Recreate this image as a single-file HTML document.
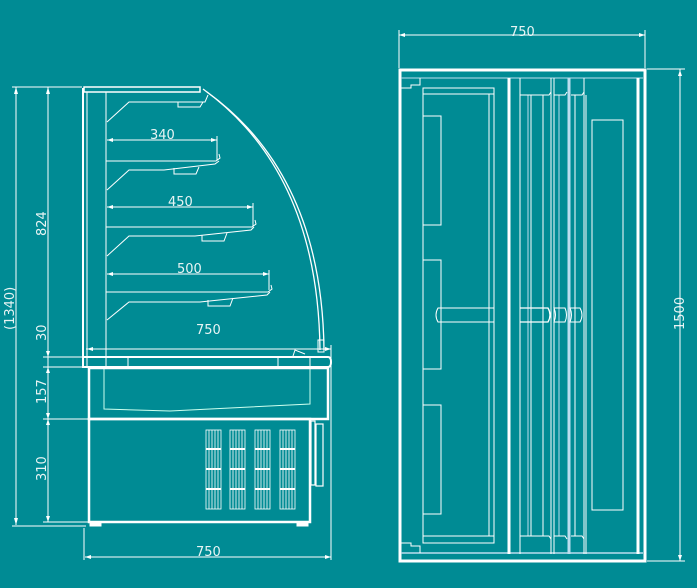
<!DOCTYPE html>
<html><head><style>
html,body{margin:0;padding:0;background:#008b94;width:697px;height:588px;overflow:hidden}
svg{display:block}
text{font-family:"DejaVu Sans","Liberation Sans",sans-serif;font-size:13px;fill:#e8f4f4}
</style></head><body>
<svg width="697" height="588" viewBox="0 0 697 588" xmlns="http://www.w3.org/2000/svg">
<g stroke="#fff" fill="none" stroke-width="1">
<line x1="16" y1="87" x2="16" y2="525"/>
<line x1="12" y1="87" x2="82" y2="87"/>
<line x1="12" y1="526" x2="86" y2="526"/>
<line x1="48" y1="87" x2="48" y2="522"/>
<line x1="43" y1="357" x2="84" y2="357"/>
<line x1="43" y1="367" x2="84" y2="367"/>
<line x1="43" y1="419" x2="89" y2="419"/>
<line x1="43" y1="522" x2="89" y2="522"/>
<line x1="83" y1="88" x2="83" y2="368" stroke-width="2"/>
<line x1="87" y1="92" x2="87" y2="368"/>
<rect x="84" y="87" width="116" height="5" stroke-width="1.5"/>
<line x1="106" y1="92" x2="106" y2="357"/>
<path d="M203,89 Q318,172 320,350" stroke-width="1.3"/>
<path d="M207,92 Q322,175 324,350" stroke-width="1.3"/>
<rect x="318" y="340" width="6" height="12"/>
<path d="M107,122 L129,102 L205,102 L208,95"/>
<path d="M178,102 L178,107 L200,107 L203,102"/>
<path d="M106,161 L216,161 L220,158 L219,154"/>
<path d="M107,190 L129,170 L164,170 L215,164 L219,161"/>
<path d="M174,168 L174,174 L196,174 L199,167"/>
<line x1="107" y1="140" x2="217" y2="140"/><line x1="217" y1="136" x2="217" y2="160"/>
<path d="M106,227 L252,227 L256,224 L255,220"/>
<path d="M106,256 L106,228 M107,256 L129,236 L195,236 L251,230 L254,227"/>
<path d="M202,235 L202,241 L224,241 L227,233"/>
<line x1="107" y1="207" x2="253" y2="207"/><line x1="253" y1="203" x2="253" y2="226"/>
<path d="M106,292 L268,292 L272,289 L271,285"/>
<path d="M107,320 L129,302 L200,302 L267,295 L270,292"/>
<path d="M208,300 L208,306 L230,306 L233,298"/>
<line x1="107" y1="274" x2="269" y2="274"/><line x1="269" y1="270" x2="269" y2="290"/>
<line x1="86" y1="349" x2="331" y2="349"/><line x1="331" y1="345" x2="331" y2="360"/>
<path d="M84,357 L328,357 Q331,357 331,362 Q331,367 328,367 L84,367" stroke-width="2"/>
<line x1="106" y1="357" x2="106" y2="367"/><line x1="128" y1="357" x2="128" y2="367"/>
<line x1="278" y1="357" x2="278" y2="367"/><line x1="310" y1="357" x2="310" y2="367"/>
<path d="M293,356 L295,350 L305,354"/>
<rect x="89" y="368" width="239" height="51" stroke-width="2.5"/>
<path d="M104,369 L104,409 L170,411 L310,404 L310,369" stroke="#cfe" />
<rect x="89" y="419" width="221" height="103" stroke-width="2.5"/>
<rect x="90" y="522" width="11" height="4" fill="#fff"/>
<rect x="297" y="522" width="11" height="4" fill="#fff"/>
<rect x="311" y="421" width="4" height="64" stroke-width="1.2"/>
<rect x="316" y="424" width="7" height="62" stroke-width="1.2"/>
<line x1="84" y1="528" x2="84" y2="560"/><line x1="331" y1="360" x2="331" y2="560"/>
<line x1="85" y1="557" x2="331" y2="557"/>
</g>
<g stroke="#fff" stroke-width="0.8" fill="none">
<g id="v"><rect x="206" y="430" width="15" height="79"/><line x1="209" y1="430" x2="209" y2="509"/><line x1="212" y1="430" x2="212" y2="509"/><line x1="215" y1="430" x2="215" y2="509"/><line x1="218" y1="430" x2="218" y2="509"/><line x1="206" y1="449" x2="221" y2="449" stroke-width="2"/><line x1="206" y1="469" x2="221" y2="469" stroke-width="2"/><line x1="206" y1="489" x2="221" y2="489" stroke-width="2"/></g>
<use href="#v" x="24"/><use href="#v" x="49"/><use href="#v" x="74"/>
</g>
<g fill="#fff" stroke="none">
<path d="M16,87 l-2,7 h4z M16,525 l-2,-7 h4z M48,87 l-2,7 h4z M48,357 l-2,-6 h4z M48,367 l-2,6 h4z M48,419 l-2,-6 h4z M48,419 l-2,6 h4z M48,522 l-2,-6 h4z M107,140 l6,-2 v4z M217,140 l-6,-2 v4z M107,207 l6,-2 v4z M253,207 l-6,-2 v4z M107,274 l6,-2 v4z M269,274 l-6,-2 v4z M87,349 l6,-2 v4z M331,349 l-6,-2 v4z M85,557 l6,-2 v4z M331,557 l-6,-2 v4z"/>
<path d="M399,35 l6,-2 v4z M645,35 l-6,-2 v4z M680,70 l-2,6 h4z M680,561 l-2,-6 h4z"/>
</g>
<text x="150" y="139">340</text>
<text x="168" y="206">450</text>
<text x="177" y="273">500</text>
<text x="196" y="334">750</text>
<text x="196" y="556">750</text>
<text x="510" y="36">750</text>
<text transform="translate(46,236) rotate(-90)">824</text>
<text transform="translate(46,341) rotate(-90)">30</text>
<text transform="translate(46,404) rotate(-90)">157</text>
<text transform="translate(46,481) rotate(-90)">310</text>
<text transform="translate(14,330) rotate(-90)">(1340)</text>
<text transform="translate(684,330) rotate(-90)">1500</text>
<g stroke="#fff" fill="none" stroke-width="1">
<line x1="399" y1="30" x2="399" y2="68"/><line x1="645" y1="30" x2="645" y2="68"/>
<line x1="399" y1="35" x2="645" y2="35"/>
<line x1="647" y1="69" x2="685" y2="69"/><line x1="647" y1="561" x2="685" y2="561"/>
<line x1="680" y1="69" x2="680" y2="561"/>
<rect x="400" y="70" width="245" height="491" stroke-width="3"/>
<line x1="401" y1="78" x2="643" y2="78" stroke="#bde"/>
<line x1="401" y1="553" x2="643" y2="553" stroke="#bde" stroke-width="1.5"/>
<path d="M401,88 L411,88 L411,85 L420,85 L420,78"/>
<path d="M401,543 L411,543 L411,546 L420,546 L420,553"/>
<line x1="509" y1="78" x2="509" y2="554" stroke-width="3"/>
<line x1="638" y1="78" x2="638" y2="554" stroke-width="3"/>
<rect x="423" y="88" width="71" height="455"/>
<line x1="423" y1="94" x2="494" y2="94"/><line x1="423" y1="536" x2="494" y2="536"/>
<line x1="489" y1="94" x2="489" y2="536"/>
<rect x="423" y="116" width="18" height="109"/>
<rect x="423" y="260" width="18" height="109"/>
<rect x="423" y="405" width="18" height="109"/>
<path d="M438,308 L494,308 L494,322 L438,322 Q434,315 438,308z"/>
<line x1="520" y1="78" x2="520" y2="554"/>
<line x1="528" y1="95" x2="528" y2="536" stroke="#bde"/>
<line x1="531" y1="95" x2="531" y2="536"/>
<line x1="543" y1="95" x2="543" y2="536"/>
<line x1="551" y1="78" x2="551" y2="554"/>
<line x1="554" y1="78" x2="554" y2="554"/>
<line x1="559" y1="95" x2="559" y2="536" stroke="#bde"/>
<line x1="569" y1="78" x2="569" y2="554" stroke="#bde" stroke-width="3"/>
<line x1="575" y1="95" x2="575" y2="536"/>
<line x1="584" y1="78" x2="584" y2="554"/>
<line x1="586" y1="95" x2="586" y2="554"/>
<path d="M520,95 L549,95 L551,92 M554,95 L565,95 L567,92 M571,95 L582,95 L584,92"/>
<path d="M520,536 L549,536 L551,539 M554,536 L565,536 L567,539 M571,536 L582,536 L584,539"/>
<rect x="592" y="120" width="31" height="390"/>
<path d="M520,308 L548,308 Q552,315 548,322 L520,322" stroke-width="1.3"/>
<path d="M554,308 L565,308 Q568,315 565,322 L554,322 Q557,315 554,308z"/>
<path d="M570,308 L580,308 Q584,315 580,322 L570,322 Q573,315 570,308z"/>
</g>
</svg>
</body></html>
